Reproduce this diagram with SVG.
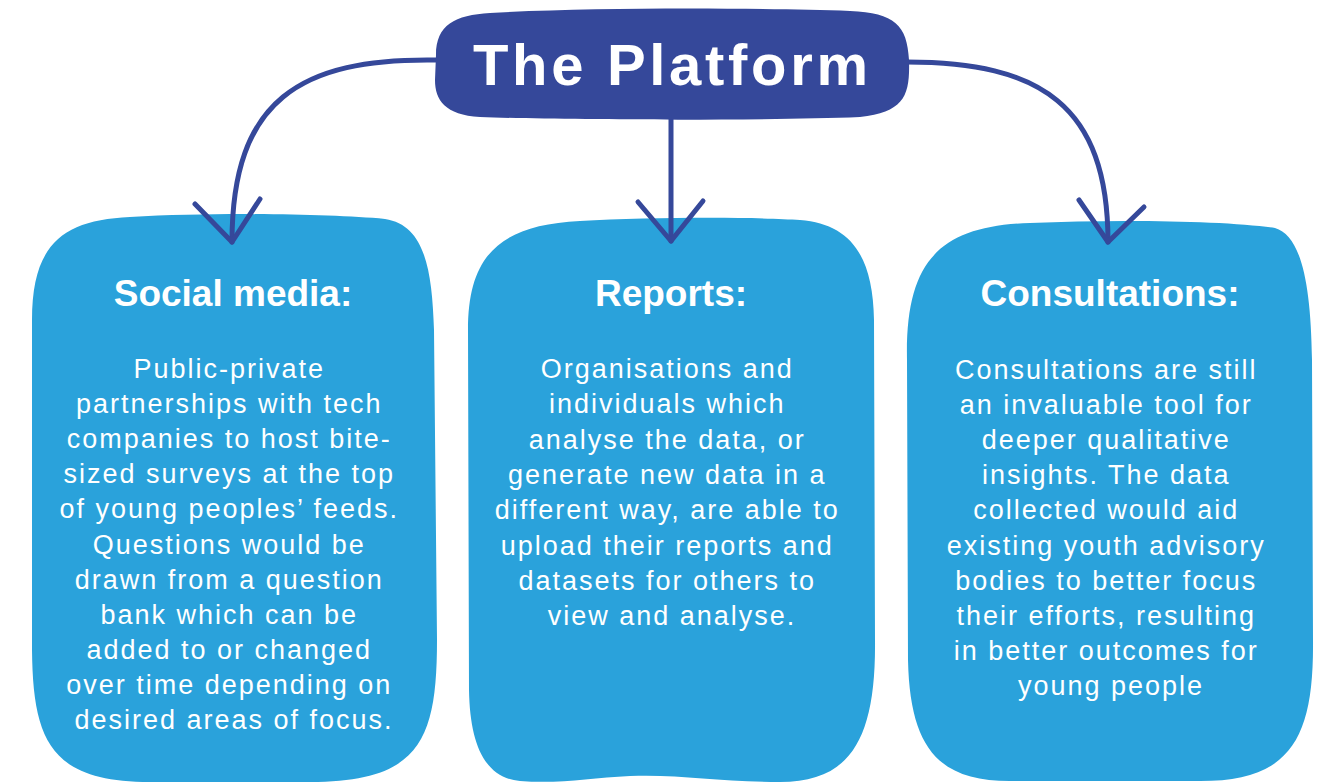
<svg xmlns="http://www.w3.org/2000/svg" width="1332" height="783" viewBox="0 0 1332 783">
  <style>
    .box { fill: #2aa2db; }
    .title-box { fill: #35489a; }
    .conn { fill: none; stroke: #35489a; stroke-width: 5; stroke-linecap: round; stroke-linejoin: round; }
    .head { font-family: "Liberation Sans", Arial, sans-serif; font-weight: bold; font-size: 37px; fill: #ffffff; text-anchor: middle; }
    .body { font-family: "Liberation Sans", Arial, sans-serif; font-size: 27px; letter-spacing: 2px; fill: #ffffff; text-anchor: middle; }
    .title { font-family: "Liberation Sans", Arial, sans-serif; font-weight: bold; font-size: 58px; fill: #ffffff; text-anchor: middle; }
  </style>
  <rect width="1332" height="783" fill="#ffffff"/>

  <g id="node-social-media">
    <path class="box" d="M 32 320 C 32 245 62 220 130 217 C 220 212 330 214 385 219 C 425 225 432 270 434 330 L 437 640 C 437 740 420 782 310 782 L 150 782 C 50 782 33 740 32 650 Z"/>
    <text class="head" x="233" y="306">Social media:</text>
    <text class="body" x="234" y="378">
      <tspan x="234" dy="0">Public-private</tspan>
      <tspan x="234" dy="35.1">partnerships with tech</tspan>
      <tspan x="234" dy="35.1">companies to host bite-</tspan>
      <tspan x="234" dy="35.1">sized surveys at the top</tspan>
      <tspan x="234" dy="35.1">of young peoples’ feeds.</tspan>
      <tspan x="234" dy="35.1">Questions would be</tspan>
      <tspan x="234" dy="35.1">drawn from a question</tspan>
      <tspan x="234" dy="35.1">bank which can be</tspan>
      <tspan x="234" dy="35.1">added to or changed</tspan>
      <tspan x="234" dy="35.1">over time depending on</tspan>
      <tspan x="234" dy="35.1">desired areas of focus.</tspan>
    </text>
  </g>

  <g id="node-reports">
    <path class="box" d="M 468 330 C 468 255 500 225 580 221 C 650 217 760 217 800 220 C 850 224 873 255 874 320 L 875 640 C 876 740 850 782 780 782 C 720 782 680 774 630 776 C 590 778 560 784 520 781 C 485 778 470 745 469 690 Z"/>
    <text class="head" x="671" y="306">Reports:</text>
    <text class="body" x="672" y="378">
      <tspan x="672" dy="0">Organisations and</tspan>
      <tspan x="672" dy="35.3">individuals which</tspan>
      <tspan x="672" dy="35.3">analyse the data, or</tspan>
      <tspan x="672" dy="35.3">generate new data in a</tspan>
      <tspan x="672" dy="35.3">different way, are able to</tspan>
      <tspan x="672" dy="35.3">upload their reports and</tspan>
      <tspan x="672" dy="35.3">datasets for others to</tspan>
      <tspan x="672" dy="35.3">view and analyse.</tspan>
    </text>
  </g>

  <g id="node-consultations">
    <path class="box" d="M 907 360 C 905 260 940 226 1030 223 C 1120 219 1230 221 1275 228 C 1300 235 1311 280 1312 360 L 1313 640 C 1314 740 1290 781 1200 781 L 1010 781 C 940 781 910 750 908 660 Z"/>
    <text class="head" x="1110" y="306">Consultations:</text>
    <text class="body" x="1111" y="379">
      <tspan x="1111" dy="0">Consultations are still</tspan>
      <tspan x="1111" dy="35.1">an invaluable tool for</tspan>
      <tspan x="1111" dy="35.1">deeper qualitative</tspan>
      <tspan x="1111" dy="35.1">insights. The data</tspan>
      <tspan x="1111" dy="35.1">collected would aid</tspan>
      <tspan x="1111" dy="35.1">existing youth advisory</tspan>
      <tspan x="1111" dy="35.1">bodies to better focus</tspan>
      <tspan x="1111" dy="35.1">their efforts, resulting</tspan>
      <tspan x="1111" dy="35.1">in better outcomes for</tspan>
      <tspan x="1111" dy="35.1">young people</tspan>
    </text>
  </g>

  <g id="connectors">
    <path class="conn" d="M 436 60 C 300 58 232 100 232 242"/>
    <polyline class="conn" points="195,204 232,242 260,199"/>
    <path class="conn" d="M 671 116 L 671 241"/>
    <polyline class="conn" points="638,202 671,241 703,201"/>
    <path class="conn" d="M 907 62 C 1040 62 1108 105 1108 242"/>
    <polyline class="conn" points="1079,200 1108,242 1144,207"/>
  </g>

  <g id="node-the-platform">
    <path class="title-box" d="M 436 55 C 436 25 455 15 490 13 C 600 7 760 8 850 11 C 895 13 907 25 909 60 C 910 95 905 112 860 117 C 760 121 560 120 480 117 C 445 115 435 100 435 80 Z"/>
    <text class="title" x="670.5" y="85" textLength="395" lengthAdjust="spacing">The Platform</text>
  </g>
</svg>
